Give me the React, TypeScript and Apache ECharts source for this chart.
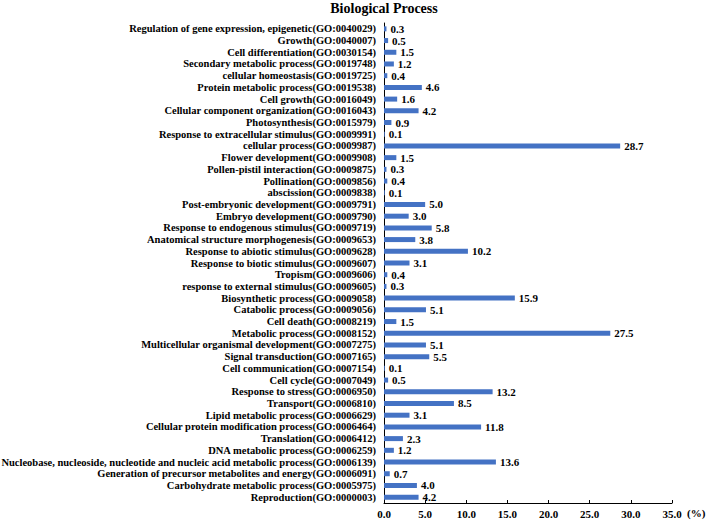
import React, { useEffect, useRef } from "react";
import * as echarts from "echarts";

const categories: string[] = [
  "Regulation of gene expression, epigenetic(GO:0040029)",
  "Growth(GO:0040007)",
  "Cell differentiation(GO:0030154)",
  "Secondary metabolic process(GO:0019748)",
  "cellular homeostasis(GO:0019725)",
  "Protein metabolic process(GO:0019538)",
  "Cell growth(GO:0016049)",
  "Cellular component organization(GO:0016043)",
  "Photosynthesis(GO:0015979)",
  "Response to extracellular stimulus(GO:0009991)",
  "cellular process(GO:0009987)",
  "Flower development(GO:0009908)",
  "Pollen-pistil interaction(GO:0009875)",
  "Pollination(GO:0009856)",
  "abscission(GO:0009838)",
  "Post-embryonic development(GO:0009791)",
  "Embryo development(GO:0009790)",
  "Response to endogenous stimulus(GO:0009719)",
  "Anatomical structure morphogenesis(GO:0009653)",
  "Response to abiotic stimulus(GO:0009628)",
  "Response to biotic stimulus(GO:0009607)",
  "Tropism(GO:0009606)",
  "response to external stimulus(GO:0009605)",
  "Biosynthetic process(GO:0009058)",
  "Catabolic process(GO:0009056)",
  "Cell death(GO:0008219)",
  "Metabolic process(GO:0008152)",
  "Multicellular organismal development(GO:0007275)",
  "Signal transduction(GO:0007165)",
  "Cell communication(GO:0007154)",
  "Cell cycle(GO:0007049)",
  "Response to stress(GO:0006950)",
  "Transport(GO:0006810)",
  "Lipid metabolic process(GO:0006629)",
  "Cellular protein modification process(GO:0006464)",
  "Translation(GO:0006412)",
  "DNA metabolic process(GO:0006259)",
  "Nucleobase, nucleoside, nucleotide and nucleic acid metabolic process(GO:0006139)",
  "Generation of precursor metabolites and energy(GO:0006091)",
  "Carbohydrate metabolic process(GO:0005975)",
  "Reproduction(GO:0000003)",
];

const values: number[] = [
  0.3, 0.5, 1.5, 1.2, 0.4, 4.6, 1.6, 4.2, 0.9, 0.1, 28.7, 1.5, 0.3, 0.4, 0.1,
  5.0, 3.0, 5.8, 3.8, 10.2, 3.1, 0.4, 0.3, 15.9, 5.1, 1.5, 27.5, 5.1, 5.5, 0.1,
  0.5, 13.2, 8.5, 3.1, 11.8, 2.3, 1.2, 13.6, 0.7, 4.0, 4.2,
];

const title = "Biological Process";
const unitLabel = "(%)";

const FONT = "serif";

export default function App() {
  const ref = useRef<HTMLDivElement>(null);
  useEffect(() => {
    if (!ref.current) return;
    const chart = echarts.init(ref.current, null, { renderer: "svg" });
    chart.setOption({
      animation: false,
      backgroundColor: "#ffffff",
      textStyle: { fontFamily: FONT },
      title: {
        text: title,
        left: 379,
        top: -4,
        textAlign: "center",
        textStyle: { fontFamily: FONT, fontWeight: "bold", fontSize: 14, color: "#000" },
      },
      grid: {
        left: 384,
        right: 37,
        top: 23,
        bottom: 18,
        containLabel: false,
        outerBoundsMode: "none",
      },
      xAxis: {
        type: "value",
        min: 0,
        max: 35,
        interval: 5,
        splitLine: { show: false },
        axisLine: { show: true, lineStyle: { color: "#000", width: 1 } },
        axisTick: { show: true, inside: true, length: 3, lineStyle: { color: "#000" } },
        axisLabel: {
          fontFamily: FONT,
          fontWeight: "bold",
          fontSize: 11,
          color: "#000",
          margin: 5,
          formatter: (v: number) => v.toFixed(1),
        },
      },
      yAxis: {
        type: "category",
        data: categories,
        inverse: true,
        axisLine: { show: true, lineStyle: { color: "#000", width: 1 } },
        axisTick: { show: false },
        axisLabel: {
          fontFamily: FONT,
          fontWeight: "bold",
          fontSize: 10.5,
          color: "#000",
          margin: 8,
          interval: 0,
        },
      },
      series: [
        {
          type: "bar",
          data: values,
          barWidth: 5,
          itemStyle: { color: "#4472C4" },
          label: {
            show: true,
            position: "right",
            distance: 4,
            fontFamily: FONT,
            fontWeight: "bold",
            fontSize: 11,
            color: "#000",
            formatter: (p: any) => Number(p.value).toFixed(1),
          },
        },
      ],
      graphic: [
        {
          type: "text",
          x: 687,
          y: 507,
          style: {
            text: unitLabel,
            fontFamily: FONT,
            fontWeight: "bold",
            fontSize: 11,
            fill: "#000",
          },
        },
      ],
    });
    return () => chart.dispose();
  }, []);
  return <div ref={ref} style={{ width: 709, height: 521, position: "absolute", left: 0, top: 0 }} />;
}
